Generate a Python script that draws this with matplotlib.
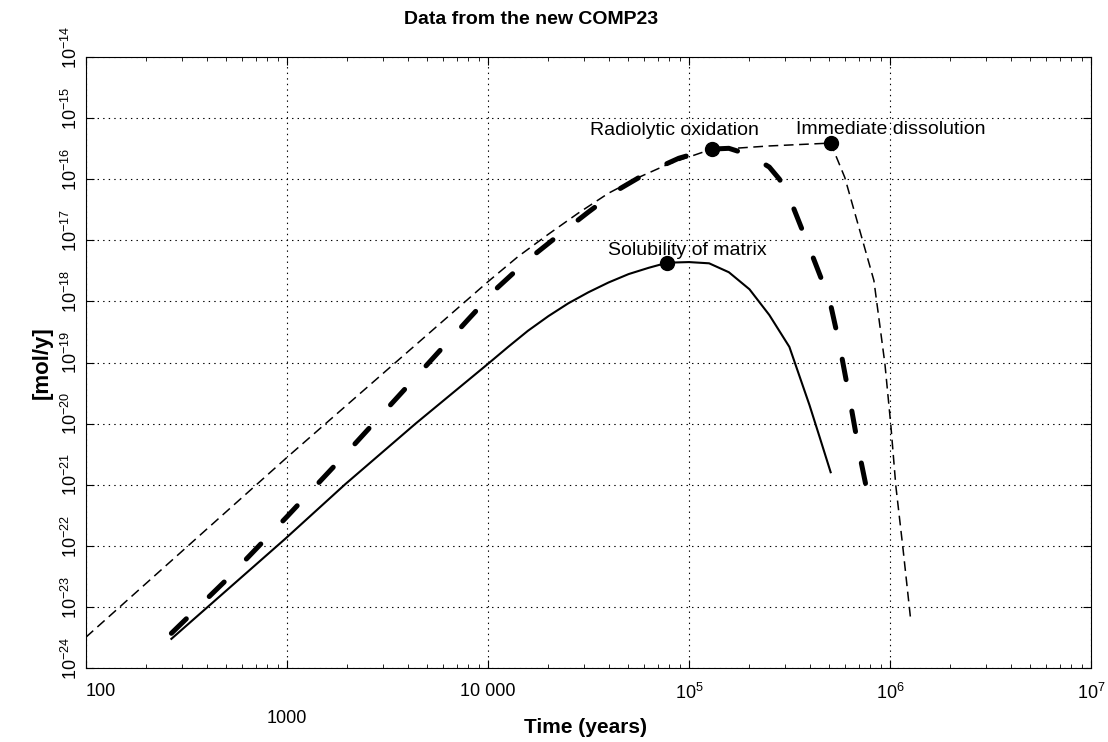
import matplotlib
matplotlib.use("Agg")
import matplotlib.pyplot as plt
import matplotlib.transforms as mtransforms

plt.rcParams["font.family"] = ["Liberation Sans", "DejaVu Sans"]
plt.rcParams["mathtext.fontset"] = "custom"
plt.rcParams["mathtext.rm"] = "Liberation Sans"
plt.rcParams["mathtext.it"] = "Liberation Sans"
plt.rcParams["mathtext.bf"] = "Liberation Sans:bold"
plt.rcParams["lines.scale_dashes"] = False

# Immediate dissolution (thin dashed)
t_imm = [100, 1000, 1e4, 1.41e4, 2e4, 2.82e4, 3.98e4, 5.62e4, 7.94e4, 1.26e5, 2.51e5, 5.07e5,
         5.96e5, 8.32e5, 9.44e5, 1.01e6, 1.07e6, 1.16e6, 1.27e6]
r_imm = [3.2e-24, 2.8e-21, 2.1e-18, 5.4e-18, 1.26e-17, 2.8e-17, 5.9e-17, 1.07e-16, 1.78e-16,
         3.0e-16, 3.5e-16, 3.9e-16,
         1.07e-16, 2.2e-18, 9.5e-20, 9.5e-21, 9.5e-22, 9.3e-23, 5.9e-24]

# Radiolytic oxidation (thick dashed)
t_rad = [266, 501, 1000, 1995, 3981, 7943, 1.12e4, 1.58e4, 2.24e4, 3.16e4, 4.47e4, 6.31e4,
         8.9e4, 1.27e5, 1.58e5, 2.0e5, 2.51e5, 2.82e5, 3.16e5, 3.98e5, 5.01e5, 5.62e5,
         6.31e5, 7.08e5, 8.04e5]
r_rad = [3.7e-24, 2.8e-23, 3.0e-22, 3.4e-21, 4.1e-20, 5.0e-19, 1.7e-18, 4.8e-18, 1.2e-17,
         2.9e-17, 6.8e-17, 1.32e-16, 2.2e-16, 3.1e-16, 3.2e-16, 2.5e-16, 1.58e-16, 1.0e-16,
         5.0e-17, 7.4e-18, 1.05e-18, 1.9e-19, 2.5e-20, 3.0e-21, 3.9e-22]

# Solubility of matrix (solid)
t_sol = [266, 977, 1950, 4365, 1e4, 1.26e4, 1.58e4, 2e4, 2.51e4, 3.16e4, 3.98e4, 5.01e4,
         6.31e4, 7.8e4, 1e5, 1.26e5, 1.58e5, 2e5, 2.51e5, 3.16e5, 3.98e5, 4.47e5, 5.07e5]
r_sol = [3.0e-24, 1.29e-22, 1.02e-21, 1.0e-20, 9.5e-20, 1.8e-19, 3.3e-19, 5.75e-19, 9.3e-19,
         1.41e-18, 2.04e-18, 2.8e-18, 3.55e-18, 4.3e-18, 4.4e-18, 4.2e-18, 3.0e-18, 1.58e-18,
         6.0e-19, 1.8e-19, 2.0e-20, 6.0e-21, 1.6e-21]

# labelled points
mark_names = ["Radiolytic oxidation", "Immediate dissolution", "Solubility of matrix"]
mark_t = [1.3e5, 5.07e5, 7.8e4]
mark_r = [3.1e-16, 3.9e-16, 4.3e-18]

xticks = [1e2, 1e3, 1e4, 1e5, 1e6, 1e7]
xlabels = ["100", "1000", "10 000", r"$10^{5}$", r"$10^{6}$", r"$10^{7}$"]
yexp = list(range(-24, -13))

fig = plt.figure(figsize=(11.08, 7.42), dpi=100)
ax = fig.add_axes([0.0776, 0.0997, 0.907, 0.8235])

ax.plot(t_imm, r_imm, color="black", lw=1.1, dashes=(7, 4))
ax.plot(t_rad, r_rad, color="black", lw=3.6, dashes=(15, 23),
        dash_capstyle="round")
ax.plot(t_sol, r_sol, color="black", lw=1.5)
ax.plot(mark_t, mark_r, "o", color="black", ms=10, zorder=5)

ax.set_xscale("log")
ax.set_yscale("log")
ax.set_xlim(100, 1e7)
ax.set_ylim(1e-24, 1e-14)

ax.set_xticks(xticks)
ax.set_xticklabels(xlabels, fontsize=13)
ax.set_yticks([10.0 ** e for e in yexp])
ax.set_yticklabels([r"$10^{%d}$" % e for e in yexp], rotation=90, va="center", fontsize=13)
ax.tick_params(which="both", direction="in", top=True, right=True)
ax.tick_params(which="major", length=6)
ax.tick_params(which="minor", length=3)
ax.tick_params(axis="x", which="major", pad=11)
xt = ax.xaxis.get_major_ticks()
xt[1].set_pad(30)
xt[0].label1.set_horizontalalignment("left")

# y labels sit a little above their ticks
shift = mtransforms.ScaledTranslation(0, 7 / 72, fig.dpi_scale_trans)
for lab in ax.get_yticklabels():
    lab.set_transform(lab.get_transform() + shift)

ax.grid(True, which="major", color="black", linestyle=(0, (1, 3)), lw=0.8)

ax.text(8.5e4, 6.2e-16, mark_names[0], fontsize=14, ha="center", va="center")
ax.text(3.4e5, 6.6e-16, mark_names[1], fontsize=14, ha="left", va="center")
ax.text(9.8e4, 6.9e-18, mark_names[2], fontsize=14, ha="center", va="center")

ax.set_xlabel("Time (years)", fontsize=15, fontweight="bold", va="center")
ax.xaxis.set_label_coords(0.497, -0.098)
ax.set_ylabel("[mol/y]", fontsize=16, fontweight="bold", labelpad=6)
fig.text(531 / 1108, 1 - 20 / 742, "Data from the new COMP23", fontsize=14,
         fontweight="bold", ha="center", va="center")

fig.savefig("out.png", dpi=100)
